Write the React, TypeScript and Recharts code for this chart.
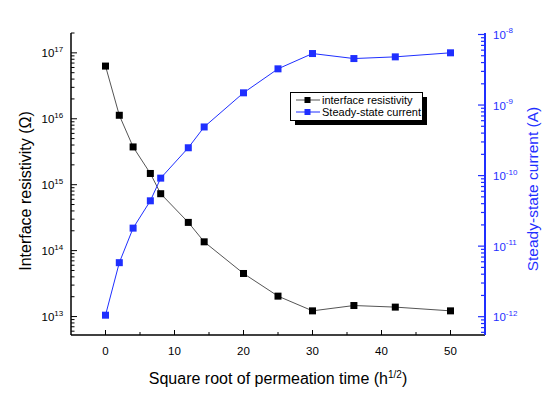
import React from 'react'
import { LineChart, Line, XAxis, YAxis, Legend, Label } from 'recharts'

// square root of permeation time (h^1/2)
const sqrtTime = [0, 2, 4, 6.5, 8, 12, 14.3, 20, 25, 30, 36, 42, 50]
// interface resistivity (Ohm)
const resistivity = [6.3e16, 1.13e16, 3.74e15, 1.48e15, 7.3e14, 2.68e14, 1.36e14, 4.5e13, 2.04e13, 1.22e13, 1.47e13, 1.39e13, 1.22e13]
// steady-state current (A)
const current = [1.05e-12, 5.83e-12, 1.8e-11, 4.39e-11, 9.2e-11, 2.48e-10, 4.89e-10, 1.49e-9, 3.26e-9, 5.37e-9, 4.56e-9, 4.82e-9, 5.5e-9]

const xTicks = [0, 5, 10, 15, 20, 25, 30, 35, 40, 45, 50]
const leftDomain = [5.25e12, 2.0e17]
const rightDomain = [5.5e-13, 1.05e-8]

const data = sqrtTime.map((x, i) => ({ x, res: resistivity[i], cur: current[i] }))

const logTicks = (lo: number, hi: number) => {
  const out: number[] = []
  for (let d = Math.floor(Math.log10(lo)); d <= Math.ceil(Math.log10(hi)); d++) {
    for (let k = 1; k <= 9; k++) {
      const v = k * Math.pow(10, d)
      if (v >= lo && v <= hi) out.push(v)
    }
  }
  return out
}

const W = 558
const H = 398
const PL = 71
const PR = 485
const PT = 33
const PB = 335
const BLUE = '#1f2fff'
const FONT = 'Arial, "Liberation Sans", sans-serif'

const decade = (v: number) => {
  const e = Math.round(Math.log10(v))
  return { e, major: Math.abs(Math.log10(v) - e) < 1e-6 }
}

const LeftTick = (props: any) => {
  const { y, payload } = props
  const { e, major } = decade(payload.value)
  return (
    <g>
      <line x1={PL} x2={PL + (major ? 6 : 3.5)} y1={y} y2={y} stroke="#000" strokeWidth={1} />
      {major && (
        <text x={41.5} y={y + 4.5} fontSize={11.5} fill="#000" fontFamily={FONT}>
          10<tspan dy={-5.5} fontSize={8}>{e}</tspan>
        </text>
      )}
    </g>
  )
}

const RightTick = (props: any) => {
  const { y, payload } = props
  const { e, major } = decade(payload.value)
  return (
    <g>
      <line x1={PR} x2={PR - (major ? 7 : 4)} y1={y} y2={y} stroke={BLUE} strokeWidth={1.2} />
      {major && (
        <text x={493} y={y + 4.5} fontSize={11.5} fill={BLUE} fontFamily={FONT}>
          10<tspan dy={-5.5} fontSize={8}>{e}</tspan>
        </text>
      )}
    </g>
  )
}

const BottomTick = (props: any) => {
  const { x, payload } = props
  const major = payload.value % 10 === 0
  return (
    <g>
      <line x1={x} x2={x} y1={PB} y2={PB - (major ? 5 : 3)} stroke="#000" strokeWidth={1} />
      {major && (
        <text x={x} y={355} textAnchor="middle" fontSize={11.5} fill="#000" fontFamily={FONT}>
          {payload.value}
        </text>
      )}
    </g>
  )
}

const Square = (color: string) => (props: any) => {
  const { cx, cy, index } = props
  if (cx == null || cy == null) return <g key={index} />
  return <rect key={index} x={cx - 3.5} y={cy - 3.5} width={7} height={7} fill={color} />
}

const LegendBox = () => (
  <svg width={140} height={36} style={{ display: 'block' }}>
    <rect x={5} y={5} width={132} height={28} fill="#000" />
    <rect x={0.5} y={0.5} width={132} height={28} fill="#fff" stroke="#000" strokeWidth={1} />
    <line x1={6} x2={30} y1={8} y2={8} stroke="#555" />
    <rect x={14.5} y={5} width={6} height={6} fill="#000" />
    <text x={32} y={11.8} fontSize={11} fontFamily={FONT} fill="#000">interface resistivity</text>
    <line x1={6} x2={30} y1={20} y2={20} stroke={BLUE} />
    <rect x={14.5} y={17} width={6} height={6} fill={BLUE} />
    <text x={32} y={24} fontSize={11} fontFamily={FONT} fill="#000">Steady-state current</text>
  </svg>
)

export default function App() {
  return (
    <div style={{ position: 'absolute', left: 0, top: 0, width: W, height: H, background: '#fff' }}>
      <LineChart width={W} height={H} data={data} margin={{ top: PT, right: 0, bottom: 0, left: 0 }}>
        <XAxis
          dataKey="x"
          type="number"
          domain={[-5, 55]}
          ticks={xTicks}
          interval={0}
          height={H - PB}
          tickLine={false}
          tick={<BottomTick />}
          axisLine={{ stroke: '#000', strokeWidth: 1.5 }}
        >
          <Label
            content={() => (
              <text x={(PL + PR) / 2} y={384} textAnchor="middle" fontSize={16} fontFamily={FONT} fill="#000">
                Square root of permeation time (h<tspan dy={-6} fontSize={10}>1/2</tspan>
                <tspan dy={6}>)</tspan>
              </text>
            )}
          />
        </XAxis>
        <XAxis
          xAxisId="top"
          orientation="top"
          dataKey="x"
          type="number"
          domain={[-5, 55]}
          height={0}
          tick={false}
          tickLine={false}
          axisLine={{ stroke: '#000', strokeWidth: 1.5 }}
        />
        <YAxis
          yAxisId="left"
          scale="log"
          domain={leftDomain}
          allowDataOverflow
          ticks={logTicks(leftDomain[0], leftDomain[1])}
          interval={0}
          width={PL}
          tickLine={false}
          tick={<LeftTick />}
          axisLine={{ stroke: '#000', strokeWidth: 1.5 }}
        >
          <Label
            content={() => (
              <text
                x={30.5}
                y={191}
                transform="rotate(-90 30.5 191)"
                textAnchor="middle"
                fontSize={16}
                fontFamily={FONT}
                fill="#000"
              >
                Interface resistivity (Ω)
              </text>
            )}
          />
        </YAxis>
        <YAxis
          yAxisId="right"
          orientation="right"
          scale="log"
          domain={rightDomain}
          allowDataOverflow
          ticks={logTicks(rightDomain[0], rightDomain[1])}
          interval={0}
          width={W - PR}
          tickLine={false}
          tick={<RightTick />}
          axisLine={{ stroke: BLUE, strokeWidth: 2 }}
        >
          <Label
            content={() => (
              <text
                x={538}
                y={189}
                transform="rotate(-90 538 189)"
                textAnchor="middle"
                fontSize={15.5}
                fontFamily={FONT}
                fill={BLUE}
              >
                Steady-state current (A)
              </text>
            )}
          />
        </YAxis>
        <Legend
          layout="horizontal"
          verticalAlign="middle"
          align="center"
          content={() => <LegendBox />}
          wrapperStyle={{ position: 'absolute', left: 290, top: 92, width: 140, height: 36 }}
        />
        <Line
          yAxisId="left"
          dataKey="res"
          stroke="#555"
          strokeWidth={1}
          dot={Square('#000')}
          activeDot={false}
          isAnimationActive={false}
        />
        <Line
          yAxisId="right"
          dataKey="cur"
          stroke={BLUE}
          strokeWidth={1}
          dot={Square(BLUE)}
          activeDot={false}
          isAnimationActive={false}
        />
      </LineChart>
    </div>
  )
}
